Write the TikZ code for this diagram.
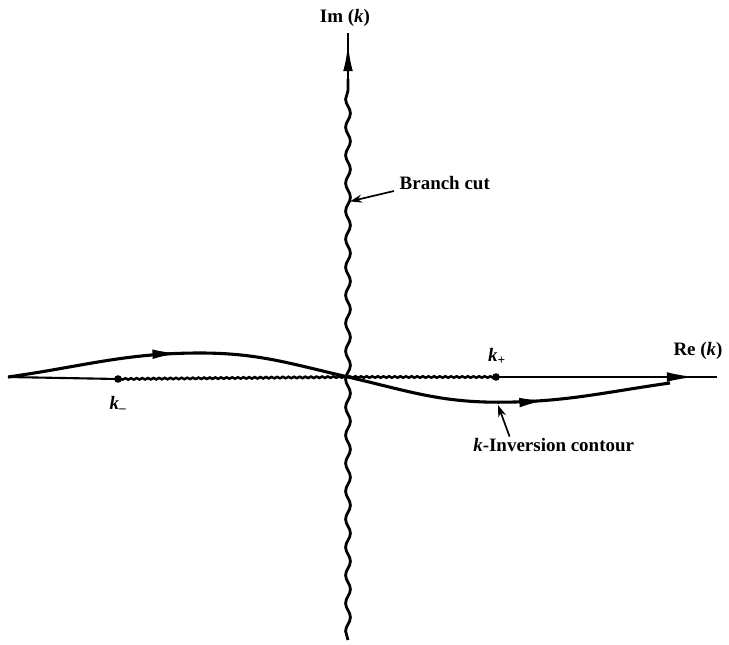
\documentclass[tikz,border=0pt]{standalone}
\usepackage{fontspec}
\setmainfont{Liberation Serif}
\usepackage{tikz}
\usetikzlibrary{positioning, arrows.meta, calc, decorations.pathmorphing, decorations.markings}

\begin{document}
\begin{tikzpicture}[
  axis/.style={line width=1.5pt},
  cut/.style={line width=2pt, decorate,
              decoration={snake, amplitude=0.6mm, segment length=7mm}},
  realcut/.style={line width=1.8pt, decorate,
                  decoration={snake, amplitude=0.5pt, segment length=4pt}},
  contour/.style={line width=2.2pt},
  dot/.style={circle, fill, inner sep=0pt, minimum size=1.9mm},
  lbl/.style={font=\fontsize{13.5}{16}\selectfont\bfseries, inner sep=1pt},
  ptr/.style={-{Stealth[length=3mm, width=2mm]}, line width=1.2pt},
  midarr/.style={postaction={decorate, decoration={markings,
                 mark=at position #1 with {\arrow{Latex[length=7mm, width=2.4mm]}}}}},
]
\useasboundingbox (-8.7,-6.675) rectangle (9.525,9.425);

\coordinate (O) at (0,0);
\coordinate (left) at (-8.5,0);
\coordinate (right) at (9.225,0);
\coordinate (top) at (0,8.6);
\coordinate (bot) at (0,-6.575);
\coordinate (wavetop) at (0,7.45);
\node[dot] (kminus) at (-5.75,-0.05) {};
\node[dot] (kplus) at (3.7,0) {};

\draw[axis] (left) -- (kminus.center);
\draw[realcut] (kminus.center) -- (O);
\draw[realcut] (O) -- (kplus.center);
\draw[axis, midarr=0.9] (kplus.center) -- (right);
\draw[cut] (bot) -- (wavetop);
\draw[axis, line width=2pt, midarr=0.78] (wavetop) -- (top);

\draw[contour, midarr=0.26, midarr=0.815] (left)
  to[out=8, in=180] (-3.7,0.6)
  to[out=0, in=167] (O)
  to[out=-13, in=180] (3.75,-0.63)
  to[out=0, in=188] (8.05,-0.15);

\node[lbl] (imlbl) at (-0.075,8.975) {Im (\textit{k})};
\node[lbl] (relbl) at (8.75,0.65) {Re (\textit{k})};
\node[lbl] (kplbl) at (3.725,0.525) {\textit{k}\textsubscript{+}};
\node[lbl] (kmlbl) at (-5.75,-0.675) {\textit{k}\textsubscript{\textendash}};
\node[lbl, anchor=west] (cutlbl) at (1.25,4.85) {Branch cut};
\node[lbl, anchor=west] (invlbl) at (3.09,-1.7) {\textit{k}-Inversion contour};

\coordinate (cutpt) at (0.05,4.39);
\coordinate (invpt) at (3.75,-0.7);
\draw[ptr] ([xshift=-1mm, yshift=-2mm]cutlbl.west) -- (cutpt);
\draw[ptr] ([xshift=9.5mm]invlbl.north west) -- (invpt);
\end{tikzpicture}
\end{document}
